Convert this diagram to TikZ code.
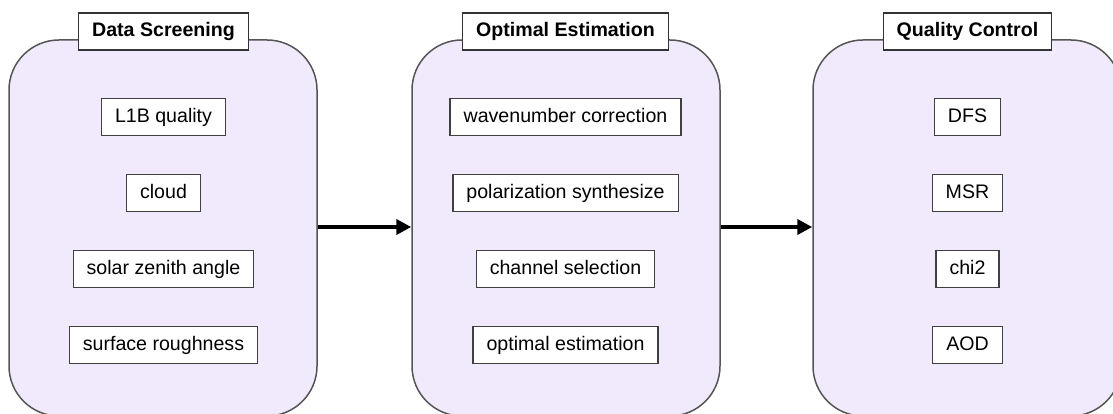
\documentclass[tikz,border=0pt]{standalone}
\usepackage{fontspec}
\setmainfont{Liberation Sans}
\usetikzlibrary{arrows.meta}
\definecolor{panelfill}{HTML}{F1EAFC}
\definecolor{edgegray}{HTML}{555555}
\tikzset{
  panel/.style={draw=edgegray, line width=1.5pt, fill=panelfill, rounded corners=50pt,
    minimum width=308pt, minimum height=376pt, inner sep=0pt},
  titlebox/.style={draw=black!80, line width=1.3pt, fill=white, minimum height=37pt,
    inner xsep=13.5pt, inner ysep=0pt, text height=14.5pt, text depth=4pt,
    font=\fontsize{19.6}{23}\selectfont\bfseries},
  itembox/.style={draw=black!75, line width=1.3pt, fill=white, minimum height=37pt,
    inner xsep=13.5pt, inner ysep=0pt, text height=14.5pt, text depth=4pt,
    font=\fontsize{19.6}{23}\selectfont},
  flow/.style={line width=4pt, -{Triangle[length=15pt,width=15pt]}}
}
\begin{document}
\begin{tikzpicture}[x=1pt,y=-1pt]
\useasboundingbox (0,0) rectangle (1113,414);
\clip (0,0) rectangle (1113,414);
% panels
\node[panel] (p1) at (163,228) {};
\node[panel] (p2) at (566,228) {};
\node[panel] (p3) at (967,228) {};
% titles
\node[titlebox] (t1) at (163.5,31.5) {Data Screening};
\node[titlebox] (t2) at (565.5,31.5) {Optimal Estimation};
\node[titlebox] (t3) at (967.5,31.5) {Quality Control};
% left items
\node[itembox] (a1) at (163.5,117) {L1B quality};
\node[itembox] (a2) at (163.5,193) {cloud};
\node[itembox] (a3) at (163.5,269) {solar zenith angle};
\node[itembox] (a4) at (163.5,345) {surface roughness};
% middle items
\node[itembox] (b1) at (565.5,117) {wavenumber correction};
\node[itembox] (b2) at (565.5,193) {polarization synthesize};
\node[itembox] (b3) at (565.5,269) {channel selection};
\node[itembox] (b4) at (565.5,345) {optimal estimation};
% right items
\node[itembox] (c1) at (967.5,117) {DFS};
\node[itembox] (c2) at (967.5,193) {MSR};
\node[itembox] (c3) at (967.5,269) {chi2};
\node[itembox] (c4) at (967.5,345) {AOD};
% arrows
\draw[flow] ([yshift=1pt]p1.east) -- ([yshift=1pt]p2.west);
\draw[flow] ([yshift=1pt]p2.east) -- ([yshift=1pt]p3.west);
\end{tikzpicture}
\end{document}
